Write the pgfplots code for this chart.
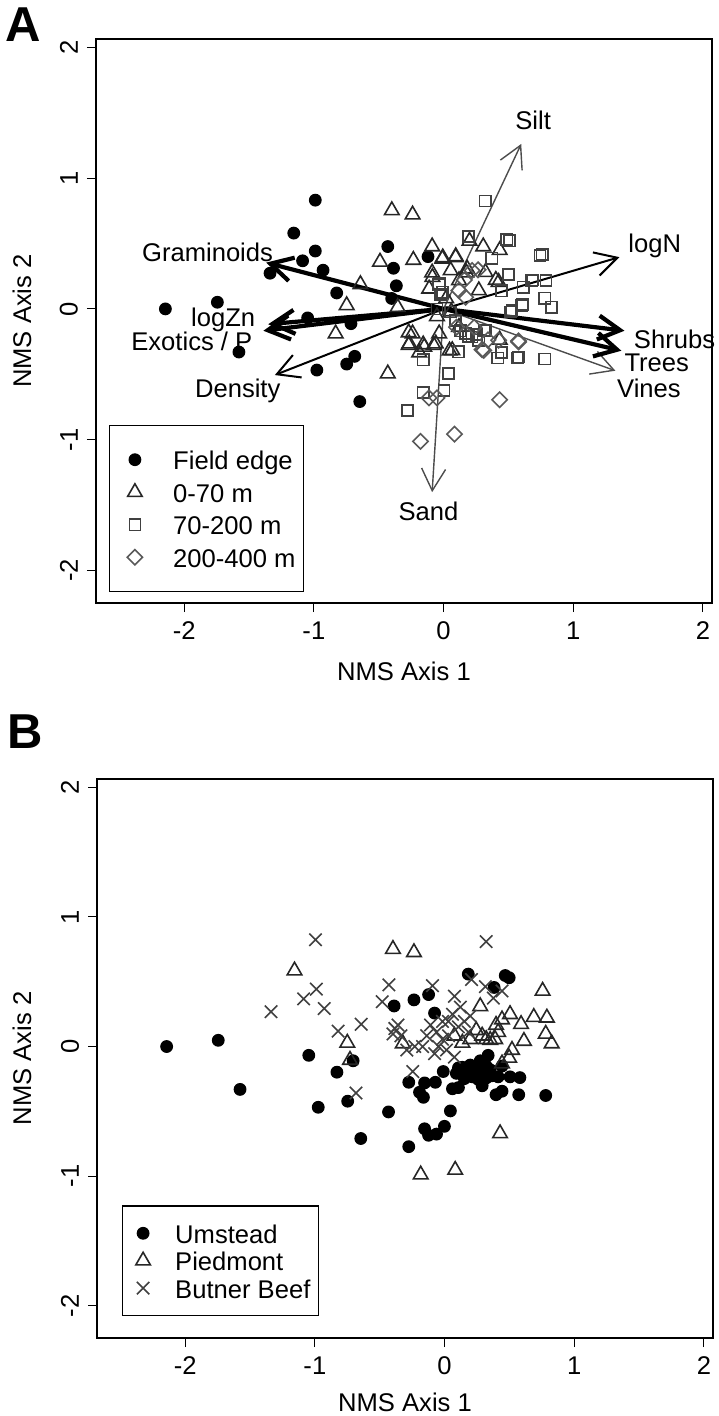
\documentclass[border=0pt]{standalone}
\usepackage{fontspec}
\setmainfont{Liberation Sans}
\setsansfont{Liberation Sans}
\usepackage{pgfplots}
\pgfplotsset{compat=1.18}
\usetikzlibrary{arrows.meta}

\newcommand\lab{\fontsize{12.8}{15}\selectfont}
\newcommand\ls{\rule[-2.5pt]{0pt}{14pt}}

\pgfplotsset{
  nms/.style={
    scale only axis, width=308pt,
    xmin=-2.68, xmax=2.07, ymin=-2.25, ymax=2.065,
    xtick={-2,-1,0,1,2}, ytick={-2,-1,0,1,2},
    xticklabels={-2,-1,0,1,2}, yticklabels={-2,-1,0,1,2},
    tick pos=left, tick align=outside, major tick length=4.5pt,
    tick style={line width=0.5pt, black},
    ticklabel style={font=\lab, inner sep=0pt},
    yticklabel style={rotate=90, anchor=south},
    xticklabel style={anchor=north},
    xticklabel shift=4.5pt, yticklabel shift=4.3pt,
    label style={font=\lab},
    xlabel={NMS Axis 1}, ylabel={NMS Axis 2},
    clip=false,
    legend cell align=left,
  },
  fe/.style={only marks, mark=*, mark size=2.9pt, black, line width=0.6pt},
  tri/.style={only marks, mark=triangle, mark size=4.2pt, black!85, line width=0.8pt},
  sq/.style={only marks, mark=square, mark size=2.8pt, black!75, line width=0.8pt},
  dia/.style={only marks, mark=square, mark size=2.7pt, mark options={rotate=45}, black!65, line width=0.8pt},
  bx/.style={only marks, mark=x, mark size=4.4pt, black!75, line width=0.8pt},
  thickarr/.style={forget plot, black, line width=2.1pt, -{Straight Barb[length=11pt,width=12pt]}},
  midarr/.style={forget plot, black, line width=1pt, -{Straight Barb[length=11pt,width=12pt]}},
  thinarr/.style={forget plot, black!70, line width=0.7pt, -{Straight Barb[length=11pt,width=12pt]}},
}

\begin{document}
\begin{tikzpicture}

\node[font=\fontsize{24.5}{29}\bfseries\selectfont, inner sep=0pt] at (11.75pt,-12.25pt) {A};
\node[font=\fontsize{24.5}{29}\bfseries\selectfont, inner sep=0pt] at (12.5pt,-366pt) {B};

% ---------- panel A ----------
\begin{axis}[nms,
  at={(48pt,-19.5pt)}, anchor=north west, height=282pt,
  axis line style={line width=1pt},
  xlabel style={at={(axis description cs:0.5,-0.122)}, anchor=center},
  ylabel style={at={(axis description cs:-0.120,0.5)}, anchor=center},
  legend style={at={(0.0205,0.0195)}, anchor=south west, draw=black, line width=0.6pt,
    inner xsep=4pt, inner ysep=10.6pt, row sep=3.25pt, column sep=11.2pt,
    font=\lab, nodes={inner sep=0pt}},
  legend image code/.code={\path (0pt,0pt) (16pt,0pt); \draw[#1] plot coordinates {(8.45pt,0pt)};},
]
\addplot[fe] coordinates {
  (-0.989,0.832) (-1.155,0.580) (-0.989,0.443) (-1.087,0.368) (-0.929,0.296)
  (-1.338,0.273) (-0.430,0.477) (-0.120,0.400) (-0.386,0.311) (-0.364,0.177)
  (-0.824,0.122) (-2.145,0.000) (-1.744,0.051) (-1.578,-0.330) (-1.048,-0.069)
  (-0.714,-0.113) (-0.977,-0.468) (-0.747,-0.422) (-0.685,-0.363) (-0.646,-0.709)
  (-0.400,0.080)
};
\addlegendentry{\ls Field edge}
\addplot[tri] coordinates {
  (-0.399,0.754) (-0.239,0.721) (-0.490,0.360) (-0.233,0.374) (-0.088,0.477)
  (-0.006,0.393) (0.094,0.402) (0.306,0.477) (0.433,0.449) (-0.641,0.188)
  (-0.747,0.027) (-0.832,-0.189) (-0.269,-0.181) (-0.269,-0.278) (-0.157,-0.273)
  (-0.076,-0.278) (-0.430,-0.495) (-0.188,-0.334) (0.046,-0.320) (0.433,-0.237)
  (-0.088,0.277) (0.403,0.221) (0.176,0.277) (-0.354,0.013) (-0.051,-0.057)
  (0.200,0.520) (-0.009,0.383) (0.093,0.395) (-0.086,0.243) (0.055,0.294)
  (0.182,0.307) (0.272,0.141) (0.425,0.205) (-0.111,0.154) (0.119,0.218)
  (0.323,0.281) (-0.239,-0.189) (-0.264,-0.266) (-0.149,-0.291) (-0.060,-0.266)
  (0.067,-0.317) (-0.034,-0.189) (0.119,-0.139) (0.020,0.080) (0.060,-0.020)
};
\addlegendentry{\ls 0-70 m}
\addplot[sq] coordinates {
  (0.321,0.826) (0.191,0.554) (0.487,0.532) (0.508,0.521) (0.760,0.416)
  (0.372,0.388) (0.502,0.263) (0.614,0.166) (0.690,0.221) (0.790,0.216)
  (0.781,0.082) (0.832,0.013) (0.608,0.033) (0.517,-0.023) (0.448,0.138)
  (0.418,-0.376) (0.569,-0.376) (0.781,-0.384) (0.448,-0.334) (0.115,-0.328)
  (-0.157,-0.389) (0.039,-0.495) (-0.157,-0.639) (0.003,-0.625) (-0.278,-0.778)
  (-0.036,0.188) (-0.021,0.110) (-0.051,0.000) (0.130,-0.167) (0.191,-0.209)
  (0.251,-0.195) (0.312,-0.167) (-0.034,0.192) (-0.009,0.128) (0.170,-0.189)
  (0.220,-0.215) (0.272,-0.240) (0.323,-0.164) (0.578,-0.368) (0.527,-0.011)
  (0.603,0.027) (0.680,0.218) (0.744,0.408) (0.055,-0.024) (0.093,-0.088)
};
\addlegendentry{\ls 70-200 m}
\addplot[dia] coordinates {
  (-0.178,-1.014) (0.085,-0.958) (0.433,-0.695) (-0.112,-0.681) (-0.051,-0.681)
  (0.578,-0.245) (0.297,-0.312) (0.266,0.299) (0.160,0.221) (0.342,-0.237)
  (0.100,-0.140) (0.236,-0.140) (0.220,0.294) (0.310,-0.317) (0.425,-0.240)
  (0.578,-0.253) (0.119,0.141) (0.170,0.090)
};
\addlegendentry{\ls 200-400 m\hspace{14.6pt}}

\addplot[thinarr] coordinates {(0,0) (0.599,1.262)};
\addplot[thinarr] coordinates {(0,0) (1.325,-0.473)};
\addplot[thinarr] coordinates {(0,0) (-0.088,-1.402)};
\addplot[midarr] coordinates {(0,0) (1.356,0.396)};
\addplot[midarr] coordinates {(0,0) (-1.301,-0.506)};
\addplot[thickarr] coordinates {(0,0) (1.395,-0.167)};
\addplot[thickarr] coordinates {(0,0) (1.371,-0.320)};
\addplot[thickarr] coordinates {(0,0) (-1.368,0.354)};
\addplot[thickarr] coordinates {(0,0) (-1.352,-0.117)};
\addplot[thickarr] coordinates {(0,0) (-1.389,-0.167)};

\node[font=\lab] at (axis cs:0.691,1.444) {Silt};
\node[font=\lab] at (axis cs:1.629,0.481) {logN};
\node[font=\lab, anchor=west, inner sep=0pt] at (axis cs:1.465,-0.233) {Shrubs};
\node[font=\lab] at (axis cs:1.644,-0.416) {Trees};
\node[font=\lab] at (axis cs:1.584,-0.610) {Vines};
\node[font=\lab] at (axis cs:-0.116,-1.550) {Sand};
\node[font=\lab] at (axis cs:-1.587,-0.630) {Density};
\node[font=\lab] at (axis cs:-1.820,0.434) {Graminoids};
\node[font=\lab] at (axis cs:-1.699,-0.082) {logZn};
\node[font=\lab] at (axis cs:-1.941,-0.249) {Exotics / P};
\end{axis}

% ---------- panel B ----------
\begin{axis}[nms,
  at={(48.5pt,-389.5pt)}, anchor=north west, height=279.5pt,
  axis line style={line width=1.35pt},
  xlabel style={at={(axis description cs:0.5,-0.1145)}, anchor=center},
  ylabel style={at={(axis description cs:-0.122,0.5)}, anchor=center},
  legend style={at={(0.0401,0.0394)}, anchor=south west, draw=black, line width=0.6pt,
    inner xsep=4pt, inner ysep=7.15pt, row sep=0.7pt, column sep=9.65pt,
    font=\lab, nodes={inner sep=0pt}},
  legend image code/.code={\path (0pt,0pt) (12pt,0pt); \draw[#1] plot coordinates {(6pt,0pt)};},
]
\addplot[fe] coordinates {
  (-2.143,0.000) (-1.745,0.048) (-1.577,-0.331) (-1.047,-0.068) (-0.830,-0.198)
  (-0.974,-0.469) (-0.747,-0.422) (-0.705,-0.110) (-0.646,-0.710) (-0.432,-0.505)
  (-0.389,0.313) (-0.236,0.360) (-0.123,0.401) (-0.077,0.258) (-0.276,-0.276)
  (-0.193,-0.353) (-0.163,-0.392) (-0.154,-0.281) (-0.071,-0.276) (0.045,-0.497)
  (-0.276,-0.773) (-0.154,-0.635) (-0.123,-0.685) (-0.062,-0.676) (-0.001,-0.616)
  (-0.010,-0.193) (0.061,-0.326) (0.107,-0.317) (0.183,0.559) (0.382,0.456)
  (0.468,0.548) (0.498,0.531) (0.336,-0.068) (0.275,-0.110) (0.091,-0.207)
  (0.137,-0.160) (0.183,-0.193) (0.214,-0.234) (0.244,-0.165) (0.290,-0.207)
  (0.321,-0.243) (0.352,-0.179) (0.198,-0.143) (0.153,-0.248) (0.107,-0.165)
  (0.260,-0.254) (0.367,-0.226) (0.229,-0.207) (0.290,-0.303) (0.413,-0.234)
  (0.443,-0.151) (0.505,-0.234) (0.581,-0.240) (0.397,-0.372) (0.443,-0.345)
  (0.572,-0.372) (0.780,-0.378) (0.321,-0.151) (0.168,-0.207)
};
\addlegendentry{\ls Umstead}
\addplot[tri] coordinates {
  (-1.157,0.586) (-0.398,0.752) (-0.236,0.727) (-0.750,0.028) (-0.729,-0.104)
  (-0.322,0.023) (-0.184,-0.989) (0.082,-0.953) (0.428,-0.671) (0.756,0.429)
  (0.789,0.222) (0.688,0.227) (0.780,0.097) (0.826,0.023) (0.612,0.042)
  (0.590,0.172) (0.505,0.249) (0.443,0.208) (0.397,0.166) (0.275,0.310)
  (0.520,-0.027) (0.498,-0.088) (0.352,0.050) (0.290,0.083) (0.198,0.056)
  (0.137,0.028) (0.443,-0.132) (0.413,0.111) (0.244,0.125) (0.321,0.056)
  (0.390,0.056) (0.076,0.083)
};
\addlegendentry{\ls Piedmont}
\addplot[bx] coordinates {
  (-0.995,0.824) (0.321,0.810) (-1.338,0.269) (-1.087,0.368) (-0.989,0.443)
  (-0.928,0.293) (-0.821,0.119) (-0.643,0.172) (-0.683,-0.359) (-0.429,0.476)
  (-0.481,0.346) (-0.359,0.166) (-0.398,0.097) (-0.245,-0.193) (-0.093,0.470)
  (0.208,0.517) (0.315,0.462) (0.443,0.429) (0.376,0.374) (0.076,0.388)
  (-0.383,0.139) (-0.337,0.083) (-0.108,0.166) (-0.062,0.111) (-0.016,0.056)
  (0.030,0.194) (0.061,0.249) (0.107,0.152) (-0.046,0.000) (0.015,-0.027)
  (0.076,-0.082) (-0.077,-0.055) (-0.138,0.083) (-0.169,0.000) (-0.291,-0.027)
  (-0.230,0.000) (0.153,0.194) (0.183,0.111) (-0.016,0.194) (0.030,0.083)
  (0.122,0.304) (0.198,0.235)
};
\addlegendentry{\ls Butner Beef\hspace{1.85pt}}
\end{axis}

\pgfresetboundingbox
\path[use as bounding box] (0pt,0pt) rectangle (359pt,-708pt);
\end{tikzpicture}
\end{document}
